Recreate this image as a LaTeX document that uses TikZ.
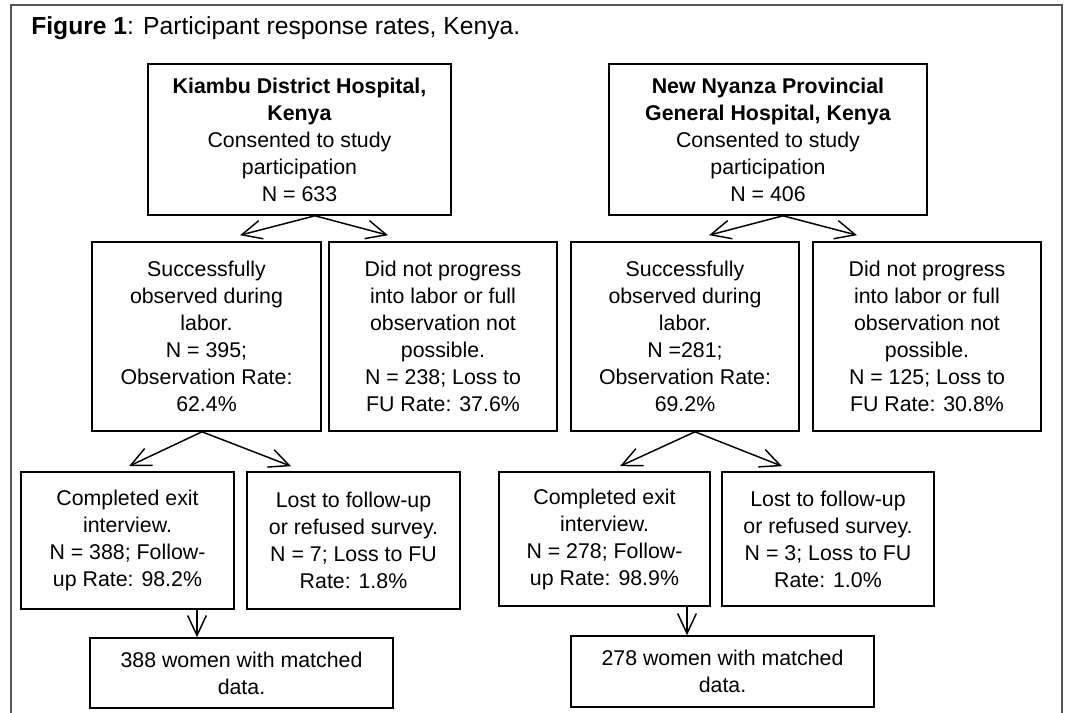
\documentclass[tikz,border=0pt]{standalone}
\usepackage{fontspec}
\setmainfont{Liberation Sans}
\usetikzlibrary{arrows.meta,calc}
\tikzset{
  bx/.style 2 args={draw=black, line width=1.2pt, align=center, inner sep=0pt,
    minimum width=#1*0.75pt, minimum height=#2*0.75pt,
    font=\fontsize{16}{20.25}\selectfont},
  arr/.style={draw=black, line width=1.1pt, -{Straight Barb[length=15pt,width=14pt,line width=1.1pt]}},
  frame/.style={draw={rgb,255:red,85;green,85;blue,85}, line width=1.1pt}
}
\begin{document}
\begin{tikzpicture}[x=0.75pt,y=-0.75pt]
\useasboundingbox (0,0) rectangle (1071,713);
\draw[frame] (11,713) -- (11,5) -- (1062,5) -- (1062,713);
\node[anchor=base west, inner sep=0pt, font=\fontsize{18.5}{22}\selectfont] (title) at (31,35) {\textbf{Figure 1}: Participant response rates, Kenya.};
% row 1
\node[bx={303}{151}] (A) at (299.5,139.5) {\textbf{Kiambu District Hospital,}\\\textbf{Kenya}\\Consented to study\\participation\\N = 633};
\node[bx={318}{151}] (B) at (768,139.5) {\textbf{New Nyanza Provincial}\\\textbf{General Hospital, Kenya}\\Consented to study\\participation\\N = 406};
% row 2
\node[bx={229}{189}] (C1) at (206.5,336.5) {Successfully\\observed during\\labor.\\N = 395;\\Observation Rate:\\62.4\%};
\node[bx={228}{189}] (C2) at (443,336.5) {Did not progress\\into labor or full\\observation not\\possible.\\N = 238; Loss to\\FU Rate: 37.6\%};
\node[bx={228}{189}] (D1) at (685,336.5) {Successfully\\observed during\\labor.\\N =281;\\Observation Rate:\\69.2\%};
\node[bx={228}{189}] (D2) at (927,336.5) {Did not progress\\into labor or full\\observation not\\possible.\\N = 125; Loss to\\FU Rate: 30.8\%};
% row 3
\node[bx={213}{137}] (E1) at (127.5,540.5) {Completed exit\\interview.\\N = 388; Follow-\\up Rate: 98.2\%};
\node[bx={213}{137}] (E2) at (353.5,540.5) {Lost to follow-up\\or refused survey.\\N = 7; Loss to FU\\Rate: 1.8\%};
\node[bx={211}{134}] (F1) at (604.5,539) {Completed exit\\interview.\\N = 278; Follow-\\up Rate: 98.9\%};
\node[bx={212}{134}] (F2) at (828,539) {Lost to follow-up\\or refused survey.\\N = 3; Loss to FU\\Rate: 1.0\%};
% row 4
\node[bx={303}{70}] (G1) at (241.5,673) {388 women with matched\\data.};
\node[bx={303}{71}] (G2) at (722.5,671.5) {278 women with matched\\data.};
% connector coordinates
\coordinate (a0) at ($(A.south)+(15.5,0)$);
\coordinate (b0) at ($(B.south)+(15,0)$);
\coordinate (c0) at ($(C1.south)+(-4.5,0)$);
\coordinate (d0) at ($(D1.south)+(10,0)$);
\coordinate (ta1) at ($(C1.north)+(33.5,-6)$);
\coordinate (ta2) at ($(C2.north)+(-55,-6)$);
\coordinate (tb1) at ($(D1.north)+(24,-6)$);
\coordinate (tb2) at ($(D2.north)+(-70,-6)$);
\coordinate (tc1) at ($(E1.north)+(1.5,-5)$);
\coordinate (tc2) at ($(E2.north)+(-62.5,-5)$);
\coordinate (td1) at ($(F1.north)+(15.5,-5)$);
\coordinate (td2) at ($(F2.north)+(-46,-5)$);
\coordinate (xe) at (197,0);
\coordinate (xf) at (687,0);
\draw[arr] (a0) -- (ta1);
\draw[arr] (a0) -- (ta2);
\draw[arr] (b0) -- (tb1);
\draw[arr] (b0) -- (tb2);
\draw[arr] (c0) -- (tc1);
\draw[arr] (c0) -- (tc2);
\draw[arr] (d0) -- (td1);
\draw[arr] (d0) -- (td2);
\draw[arr] (E1.south -| xe) -- (G1.north -| xe);
\draw[arr] (F1.south -| xf) -- (G2.north -| xf);
\end{tikzpicture}
\end{document}
